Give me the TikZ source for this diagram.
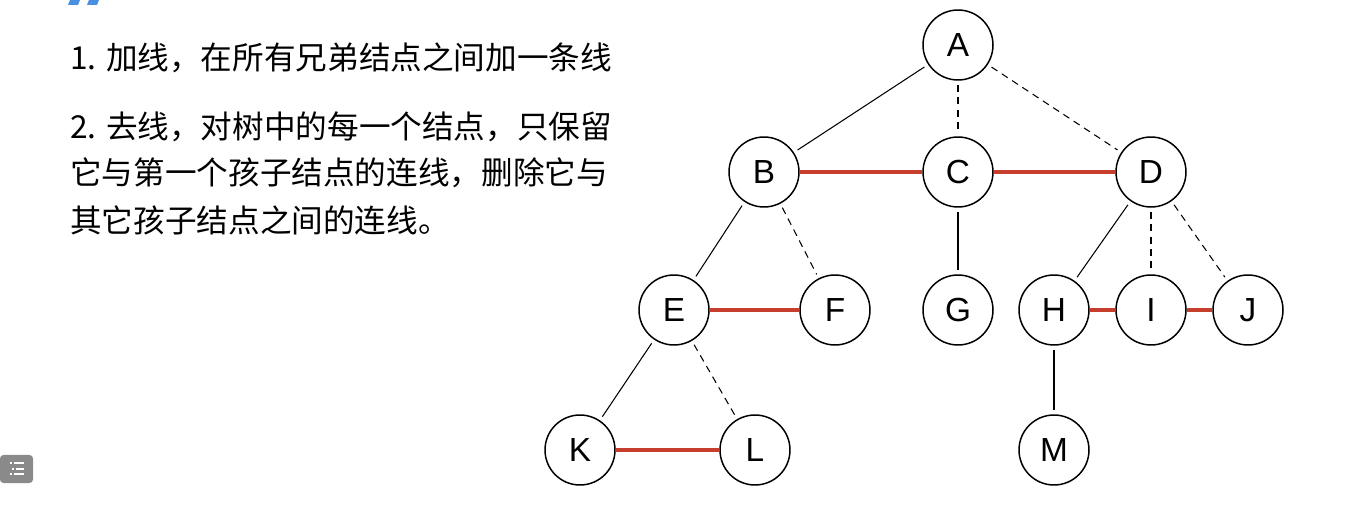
\documentclass[tikz,border=0pt]{standalone}
\usepackage{fontspec}
\setmainfont{Liberation Sans}
\newfontfamily\cjk{Noto Sans CJK SC}
\usepackage{tikz}
\usetikzlibrary{shapes.geometric}
\usepackage{xcolor}
\definecolor{siblingred}{RGB}{200,62,45}
\definecolor{quoteblue}{RGB}{74,144,226}
\definecolor{icongray}{RGB}{138,138,138}

\begin{document}
\begin{tikzpicture}[x=0.02cm, y=-0.02cm,
        treenode/.style={circle, draw, line width=0.85pt, minimum size=1.4cm, inner sep=0pt, font=\fontsize{19}{19}\selectfont},
        tedge/.style={line width=0.6pt, shorten >=2.5pt, shorten <=2.5pt},
        dedge/.style={tedge, dash pattern=on 4pt off 3pt},
        redge/.style={siblingred, line width=2.1pt},
        rule/.style={anchor=west, inner sep=0pt, font=\cjk\fontsize{18}{18}\selectfont}]
            % Same Bounding Box
            \useasboundingbox (0,0) rectangle (1356,506);

            % Screenshot marks
            \fill[quoteblue] (70,0) -- (80,0) -- (78,5) -- (68,5) -- cycle;
            \fill[quoteblue] (89,0) -- (99,0) -- (97,5) -- (87,5) -- cycle;
            \fill[icongray, rounded corners=2pt] (0,455) rectangle (33,483);
            \fill[white] (10,462) rectangle (12,464);
            \fill[white] (12,468) rectangle (14,470);
            \fill[white] (10,473) rectangle (12,475);
            \draw[white, line width=1.2pt] (14,463) -- (24,463) (16,469) -- (24,469) (14,474) -- (24,474);

            % Rules
            \node[rule] (rule1) at (70,58) {1. 加线，在所有兄弟结点之间加一条线};
            \node[rule] (rule2a) at (70,127) {2. 去线，对树中的每一个结点，只保留};
            \node[rule] (rule2b) at (70,173) {它与第一个孩子结点的连线，删除它与};
            \node[rule] (rule2c) at (70,220) {其它孩子结点之间的连线。};

            % Tree nodes
            \node[treenode] (A) at (958,45) {A};
            \node[treenode] (B) at (764,172) {B};
            \node[treenode] (C) at (958,172) {C};
            \node[treenode] (D) at (1151,172) {D};
            \node[treenode] (E) at (674,310) {E};
            \node[treenode] (F) at (835,310) {F};
            \node[treenode] (G) at (958,310) {G};
            \node[treenode] (H) at (1054,310) {H};
            \node[treenode] (I) at (1151,310) {I};
            \node[treenode] (J) at (1248,310) {J};
            \node[treenode] (K) at (580,450) {K};
            \node[treenode] (L) at (755,450) {L};
            \node[treenode] (M) at (1054,450) {M};

            % First child edges
            \draw[tedge] (A) -- (B);
            \draw[tedge] (B) -- (E);
            \draw[tedge] (C) -- (G);
            \draw[tedge] (D) -- (H);
            \draw[tedge] (E) -- (K);
            \draw[tedge] (H) -- (M);

            % Removed edges
            \draw[dedge] (A) -- (C);
            \draw[dedge] (A) -- (D);
            \draw[dedge] (B) -- (F);
            \draw[dedge] (D) -- (I);
            \draw[dedge] (D) -- (J);
            \draw[dedge] (E) -- (L);

            % Sibling edges
            \draw[redge] (B) -- (C);
            \draw[redge] (C) -- (D);
            \draw[redge] (E) -- (F);
            \draw[redge] (H) -- (I);
            \draw[redge] (I) -- (J);
            \draw[redge] (K) -- (L);
\end{tikzpicture}
\end{document}
